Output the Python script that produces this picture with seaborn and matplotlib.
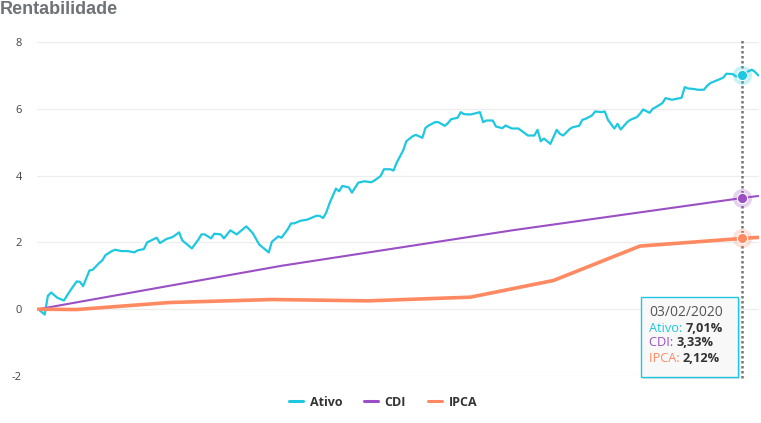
import matplotlib
matplotlib.use("Agg")
import numpy as np
import pandas as pd
import seaborn as sns
import matplotlib.pyplot as plt
from matplotlib.patches import Rectangle
from matplotlib.lines import Line2D

# ---------------- data ----------------
titulo = "Rentabilidade"
series = ["Ativo", "CDI", "IPCA"]
cores = ["#1DC8E0", "#9B4FC4", "#FF8A62"]
y_ticks = [-2, 0, 2, 4, 6, 8]

ativo_dias = [0, 2, 3, 4, 6, 8, 10, 12, 13, 14, 16, 17, 19, 20, 21, 23, 24, 26, 28, 30,
              31, 33, 34, 37, 38, 40, 42, 44, 45, 48, 50, 51, 52, 54, 55, 57, 58, 60, 62, 65,
              66, 67, 69, 72, 73, 75, 76, 78, 79, 80, 82, 84, 87, 88, 89, 90, 91, 93, 94, 95,
              97, 98, 100, 102, 104, 105, 107, 108, 110, 111, 112, 114, 115, 117, 118, 120, 121, 122, 124, 125,
              127, 128, 129, 131, 132, 133, 135, 136, 138, 139, 140, 142, 143, 145, 146, 148, 150, 152, 153, 155,
              156, 157, 158, 160, 162, 163, 164, 166, 167, 169, 170, 171, 173, 174, 176, 177, 178, 180, 181, 182,
              184, 185, 187, 188, 189, 191, 192, 193, 195, 196, 198, 200, 201, 202, 203, 205, 206, 208, 209, 210,
              211, 213, 214, 215, 217, 218, 220, 222, 223, 224, 225]
ativo_valores = [0.00, -0.16, 0.40, 0.50, 0.34, 0.26, 0.56, 0.83, 0.82, 0.69, 1.16, 1.18, 1.38, 1.46, 1.62, 1.74, 1.78, 1.74, 1.74, 1.70,
                 1.76, 1.80, 2.00, 2.14, 1.98, 2.10, 2.16, 2.30, 2.06, 1.82, 2.08, 2.24, 2.24, 2.12, 2.26, 2.24, 2.12, 2.36, 2.24, 2.48,
                 2.38, 2.28, 1.94, 1.70, 2.02, 2.18, 2.14, 2.40, 2.57, 2.57, 2.65, 2.68, 2.80, 2.79, 2.73, 2.90, 3.17, 3.61, 3.53, 3.69,
                 3.65, 3.49, 3.79, 3.83, 3.80, 3.85, 3.99, 4.19, 4.19, 4.15, 4.39, 4.75, 5.03, 5.18, 5.22, 5.13, 5.43, 5.50, 5.60, 5.60,
                 5.49, 5.57, 5.69, 5.73, 5.90, 5.84, 5.83, 5.85, 5.90, 5.60, 5.65, 5.65, 5.47, 5.42, 5.50, 5.41, 5.41, 5.27, 5.20, 5.20,
                 5.37, 5.03, 5.11, 4.95, 5.37, 5.25, 5.20, 5.39, 5.45, 5.49, 5.67, 5.70, 5.80, 5.92, 5.90, 5.92, 5.67, 5.41, 5.55, 5.38,
                 5.60, 5.67, 5.75, 5.85, 5.98, 5.88, 6.00, 6.05, 6.17, 6.32, 6.27, 6.31, 6.33, 6.65, 6.61, 6.59, 6.57, 6.57, 6.69, 6.77,
                 6.81, 6.89, 6.93, 7.05, 7.04, 6.97, 7.01, 7.13, 7.17, 7.10, 7.00]

cdi_dias = [0, 76, 148, 220, 225]
cdi_valores = [0.00, 1.30, 2.36, 3.33, 3.39]

ipca_dias = [0, 12, 41, 73, 103, 135, 161, 188, 220, 225]
ipca_valores = [0.00, -0.01, 0.20, 0.29, 0.25, 0.36, 0.86, 1.89, 2.12, 2.15]

data_hover = "03/02/2020"
dia_hover = 220
valores_hover = [7.01, 3.33, 2.12]

# ---------------- figure ----------------
W, H = 761, 423
sns.set_style("white")
plt.rcParams["font.family"] = ["Open Sans", "DejaVu Sans"]

fig = plt.figure(figsize=(W / 100, H / 100), dpi=100)
ax = fig.add_axes([37 / W, 1 - 376 / H, 722 / W, 334 / H])


def fpx(x, y):
    return (x / W, 1 - y / H)


frames = [
    pd.DataFrame({"dia": ativo_dias, "valor": ativo_valores, "serie": "Ativo"}),
    pd.DataFrame({"dia": cdi_dias, "valor": cdi_valores, "serie": "CDI"}),
    pd.DataFrame({"dia": ipca_dias, "valor": ipca_valores, "serie": "IPCA"}),
]
larguras = [1.6, 1.5, 2.6]
for df, cor, lw in zip(frames, cores, larguras):
    sns.lineplot(data=df, x="dia", y="valor", color=cor, linewidth=lw, ax=ax,
                 legend=False, estimator=None, sort=False, zorder=3,
                 solid_joinstyle="round", solid_capstyle="round")

ax.set_xlim(-0.4, 225.2)
ax.set_ylim(-2, 8)
ax.set_yticks(y_ticks)
ax.set_yticklabels([str(t) for t in y_ticks])
ax.set_xticks([])
ax.set_xlabel("")
ax.set_ylabel("")
ax.grid(axis="y", color="#EDEDED", linewidth=0.9, zorder=0)
for s in ax.spines.values():
    s.set_visible(False)
ax.tick_params(axis="y", length=0, pad=11, labelsize=8, labelcolor="#444444")

# hover line
ax.axvline(dia_hover, ymin=-0.006, ymax=1.006, color="#777777", linewidth=1.8,
           linestyle=(0, (1, 1)), clip_on=False, zorder=4)

# hover markers
for v, cor in zip(valores_hover, cores):
    ax.scatter([dia_hover], [v], s=190, color=cor, alpha=0.25, linewidths=0, zorder=5)
    ax.scatter([dia_hover], [v], s=55, color=cor, edgecolors="white", linewidths=0.8, zorder=6)

# title
fig.text(*fpx(0, 10), titulo, fontsize=13, fontweight="bold", color="#6E7378",
         family=["Liberation Sans", "DejaVu Sans"], ha="left", va="center")

# legend
handles = [Line2D([0], [0], color=c, linewidth=2.2) for c in cores]
leg = fig.legend(handles, series, loc="center", bbox_to_anchor=fpx(383, 402), ncol=3,
                 frameon=False, handlelength=1.15, handletextpad=0.5, columnspacing=1.75,
                 prop={"weight": "bold", "size": 9})
for t in leg.get_texts():
    t.set_color("#333333")

# tooltip
x0, y0, x1, y1 = 641, 297, 738, 377
shadow = Rectangle(fpx(x0 + 2, y1 + 2), (x1 - x0) / W, (y1 - y0) / H, transform=fig.transFigure,
                   facecolor="#000000", alpha=0.12, edgecolor="none", zorder=9)
box = Rectangle(fpx(x0, y1), (x1 - x0) / W, (y1 - y0) / H, transform=fig.transFigure,
                facecolor="#F8F8F8", edgecolor=cores[0], linewidth=1.0, zorder=10)
fig.add_artist(shadow)
fig.add_artist(box)

fig.text(*fpx(649, 313), data_hover, fontsize=10, color="#555555", ha="left", va="center", zorder=11)
fig.canvas.draw()
renderer = fig.canvas.get_renderer()
for i, (nome, v, cor) in enumerate(zip(series, valores_hover, cores)):
    yy = 328 + 15 * i
    lab = fig.text(*fpx(649, yy), nome + ": ", fontsize=9.2, color=cor, ha="left", va="center", zorder=11)
    bb = lab.get_window_extent(renderer)
    valor_txt = f"{v:.2f}".replace(".", ",") + "%"
    fig.text(bb.x1 / W, 1 - yy / H, valor_txt, fontsize=9.2, fontweight="bold", color="#333333",
             ha="left", va="center", zorder=11)

fig.savefig("out.png", dpi=100)
